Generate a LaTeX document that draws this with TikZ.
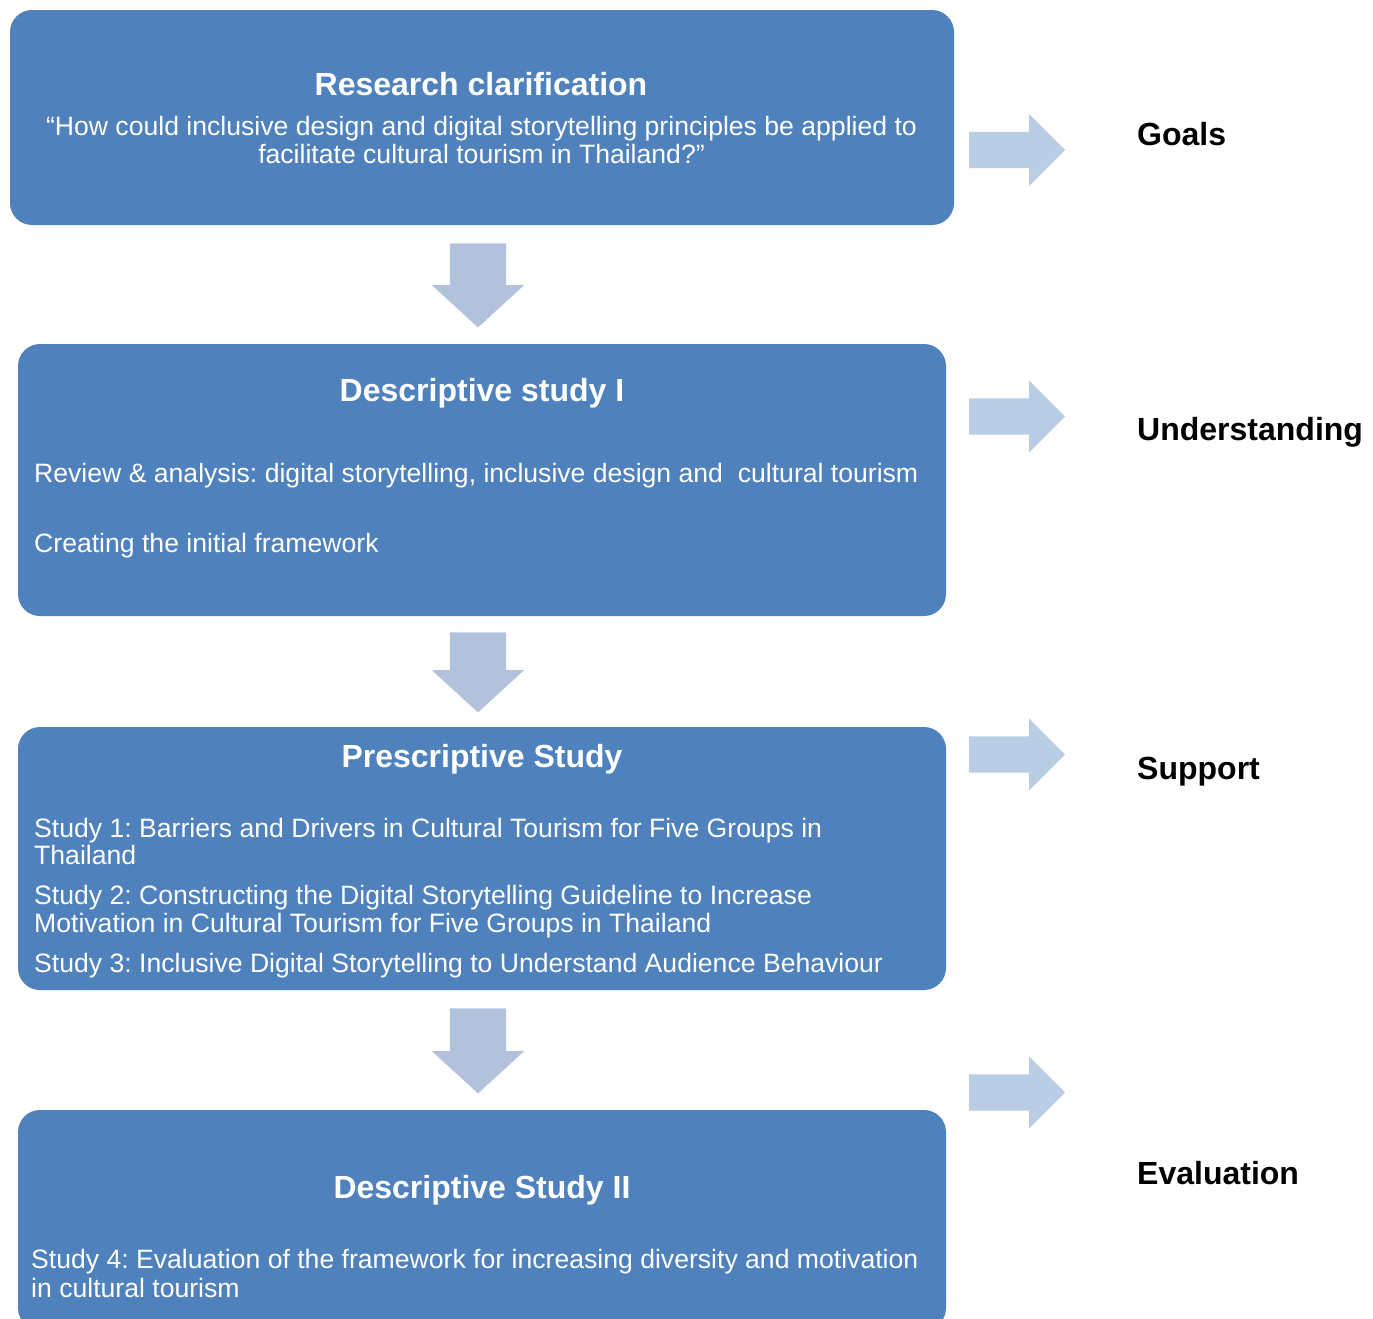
\documentclass[tikz,border=0pt]{standalone}
\usepackage{fontspec}
\setmainfont{Liberation Sans}
\frenchspacing
\usetikzlibrary{shapes.arrows,calc}
\definecolor{stagefill}{HTML}{4F81BD}
\definecolor{flowarrow}{HTML}{B2C2DD}
\definecolor{goalarrow}{HTML}{B9CDE5}
\tikzset{
  stage/.style={fill=stagefill, rounded corners=22pt, minimum width=928pt, inner sep=0pt},
  stagetitle/.style={text=white, font=\fontsize{32}{36}\selectfont\bfseries, inner sep=0pt, anchor=base},
  stagetext/.style={text=white, font=\fontsize{26.6}{27.5}\selectfont, inner sep=0pt, align=left, anchor=base west},
  flowdown/.style={single arrow, fill=flowarrow, rotate=-90, anchor=tail, minimum width=92pt,
                   single arrow head extend=18pt, single arrow tip angle=95,
                   inner xsep=0pt, inner ysep=28pt},
  goalright/.style={single arrow, fill=goalarrow, anchor=tail, minimum width=72pt, minimum height=96pt,
                    single arrow head extend=18pt, inner xsep=0pt, inner ysep=18pt},
  goallabel/.style={font=\fontsize{32}{36}\selectfont\bfseries, inner sep=0pt, anchor=base west},
}

\begin{document}
\begin{tikzpicture}[x=1pt, y=-1pt]
  \useasboundingbox (0,0) rectangle (1373,1318);
  \node[stage, minimum width=944pt, minimum height=215pt] (b1) at (482,117.5) {};
  \node[stage, minimum height=272pt] (b2) at (482,480) {};
  \node[stage, minimum height=263pt] (b3) at (482,858.5) {};
  \node[stage, minimum height=220pt] (b4) at (482,1220) {};

  \node[flowdown, minimum height=84pt] (d1) at ($(b1.south)+(-4,18)$) {};
  \node[flowdown, minimum height=80pt] (d2) at ($(b2.south)+(-4,16)$) {};
  \node[flowdown, minimum height=85pt] (d3) at ($(b3.south)+(-4,18)$) {};

  \node[stagetitle] (b1title) at (481,95) {Research clarification};
  \node[stagetext, align=center, anchor=base] (b1text) at (481.5,163)
    {“How could inclusive design and digital storytelling principles be applied to\\facilitate cultural tourism in Thailand?”};

  \node[stagetitle] (b2title) at (482,401) {Descriptive study I};
  \node[stagetext] (b2review) at (34,482)
    {Review \& analysis: digital storytelling, inclusive design and \ cultural tourism};
  \node[stagetext] (b2frame) at (34,552) {Creating the initial framework};

  \node[stagetitle] (b3title) at (482,767) {Prescriptive Study};
  \node[stagetext] (b3studies) at (34,972)
    {Study 1: Barriers and Drivers in Cultural Tourism for Five Groups in\\Thailand\\[12.5pt]
     Study 2: Constructing the Digital Storytelling Guideline to Increase\\Motivation in Cultural Tourism for Five Groups in Thailand\\[12.5pt]
     Study 3: Inclusive Digital Storytelling to Understand Audience Behaviour};

  \node[stagetitle] (b4title) at (482,1198) {Descriptive Study II};
  \node[stagetext, font=\fontsize{26.6}{29}\selectfont] (b4text) at (31,1297)
    {Study 4: Evaluation of the framework for increasing diversity and motivation\\in cultural tourism};

  \node[goalright] (g1) at (969,150) {};
  \node[goalright] (g2) at (969,416.5) {};
  \node[goalright] (g3) at (969,754.5) {};
  \node[goalright] (g4) at (969,1092.5) {};
  \node[goallabel] (goals) at (1137,145) {Goals};
  \node[goallabel] (understanding) at (1137,440) {Understanding};
  \node[goallabel] (support) at (1137,779) {Support};
  \node[goallabel] (evaluation) at (1137,1184) {Evaluation};
\end{tikzpicture}
\end{document}
